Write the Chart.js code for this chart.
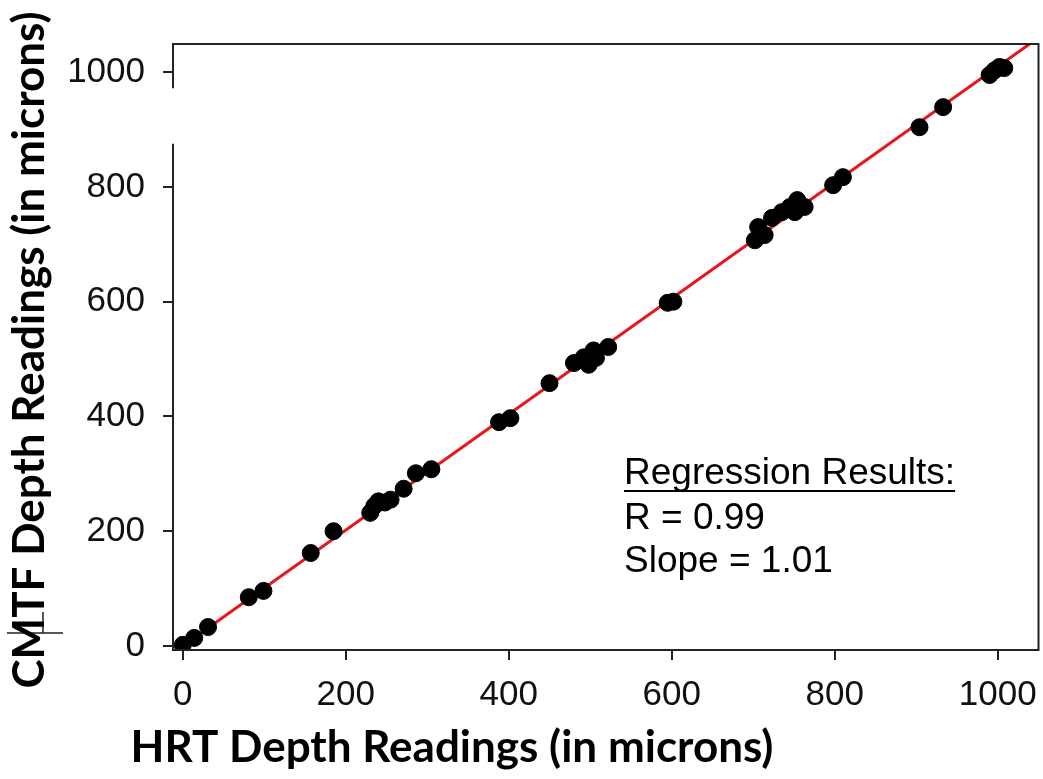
<!DOCTYPE html>
<html>
<head>
<meta charset="utf-8">
<script src="https://cdn.jsdelivr.net/npm/chart.js@4"></script>
<style>
  html, body { margin: 0; padding: 0; background: #fff; overflow: hidden; }
  #box { width: 1048px; height: 779px; }
</style>
</head>
<body>
<div id="box"><canvas id="grafico"></canvas></div>
<script>
const hrt  = [0, 14, 31, 81, 99, 157, 185, 230, 235, 240, 248, 255, 271, 286, 305, 388, 402, 450,
              480, 492, 498, 504, 507, 522, 595, 602, 702, 706, 714, 723, 735, 745, 754, 751, 763,
              798, 810, 904, 933, 990, 996, 1002, 1008];
const cmtf = [2, 14, 33, 85, 96, 162, 200, 232, 244, 252, 250, 255, 274, 301, 308, 390, 397, 458,
              493, 503, 490, 515, 502, 521, 598, 600, 707, 730, 716, 746, 756, 765, 777, 756, 765,
              803, 817, 904, 939, 995, 1003, 1009, 1007];
// regression line end points
const fitX = [-7, 1039];
const fitY = [-7, 1049];
const tickValues = [0, 200, 400, 600, 800, 1000];
const notes = ['Regression Results:', 'R = 0.99', 'Slope = 1.01'];

const pontos = hrt.map((x, i) => ({ x: x, y: cmtf[i] }));
const reta = fitX.map((x, i) => ({ x: x, y: fitY[i] }));

const extras = {
    id: 'extras',
    afterDraw(chart) {
        const c = chart.ctx;
        const a = chart.chartArea;
        const ys = chart.scales.y;
        c.save();
        c.strokeStyle = '#222';
        c.lineWidth = 2;
        c.beginPath();
        // frame with broken left axis
        c.moveTo(a.left, ys.getPixelForValue(972));
        c.lineTo(a.left, a.top);
        c.lineTo(a.right, a.top);
        c.lineTo(a.right, a.bottom);
        c.lineTo(a.left, a.bottom);
        c.lineTo(a.left, ys.getPixelForValue(875));
        c.stroke();
        // stray fragment near the y title
        c.lineWidth = 1.5;
        c.beginPath();
        c.moveTo(7, 633); c.lineTo(63, 633);
        c.moveTo(43, 612); c.lineTo(43, 633);
        c.stroke();

        // axis titles
        c.fillStyle = '#000';
        c.font = 'bold 44px Lato';
        c.textAlign = 'center';
        c.textBaseline = 'middle';
        c.fillText('HRT Depth Readings (in microns)', 452, 748);
        c.save();
        c.translate(30, 350);
        c.rotate(-Math.PI / 2);
        c.fillText('CMTF Depth Readings (in microns)', 0, 0);
        c.restore();

        // annotation
        c.font = '37px "Liberation Sans", Arial';
        c.textAlign = 'left';
        c.textBaseline = 'alphabetic';
        const bases = [484, 529, 572];
        notes.forEach((t, i) => c.fillText(t, 624, bases[i]));
        const w = c.measureText(notes[0]).width;
        c.lineWidth = 2;
        c.strokeStyle = '#000';
        c.beginPath();
        c.moveTo(624, 491); c.lineTo(624 + w, 491);
        c.stroke();
        c.restore();
    }
};

const eixo = {
    type: 'linear',
    ticks: {
        stepSize: 200,
        includeBounds: false,
        color: '#111',
        font: { family: '"Liberation Sans", Arial', size: 35 },
        callback: v => tickValues.includes(v) ? String(v) : ''
    },
    grid: { drawOnChartArea: false, drawTicks: true, tickLength: 10, color: '#222', lineWidth: 2 },
    border: { display: false }
};

new Chart(document.getElementById('grafico').getContext('2d'), {
    type: 'scatter',
    data: {
        datasets: [
            {
                type: 'line',
                data: reta,
                borderColor: '#e8161c',
                borderWidth: 3,
                pointRadius: 0,
                order: 2
            },
            {
                data: pontos,
                backgroundColor: '#000',
                borderColor: '#000',
                pointRadius: 8.5,
                order: 1
            }
        ]
    },
    options: {
        responsive: true,
        maintainAspectRatio: false,
        animation: false,
        layout: { padding: { top: 44, right: 0, left: 0, bottom: 0 } },
        plugins: { legend: { display: false }, tooltip: { enabled: false } },
        scales: {
            x: Object.assign({}, eixo, {
                min: -12, max: 1050,
                ticks: Object.assign({}, eixo.ticks, { padding: 14 }),
                afterFit: s => { s.height = 129; s.paddingLeft = 0; s.paddingRight = 0; }
            }),
            y: Object.assign({}, eixo, {
                min: -7, max: 1049,
                ticks: Object.assign({}, eixo.ticks, { padding: 18 }),
                afterFit: s => { s.width = 173; s.paddingTop = 0; s.paddingBottom = 0; }
            })
        }
    },
    plugins: [extras]
});
</script>
</body>
</html>
